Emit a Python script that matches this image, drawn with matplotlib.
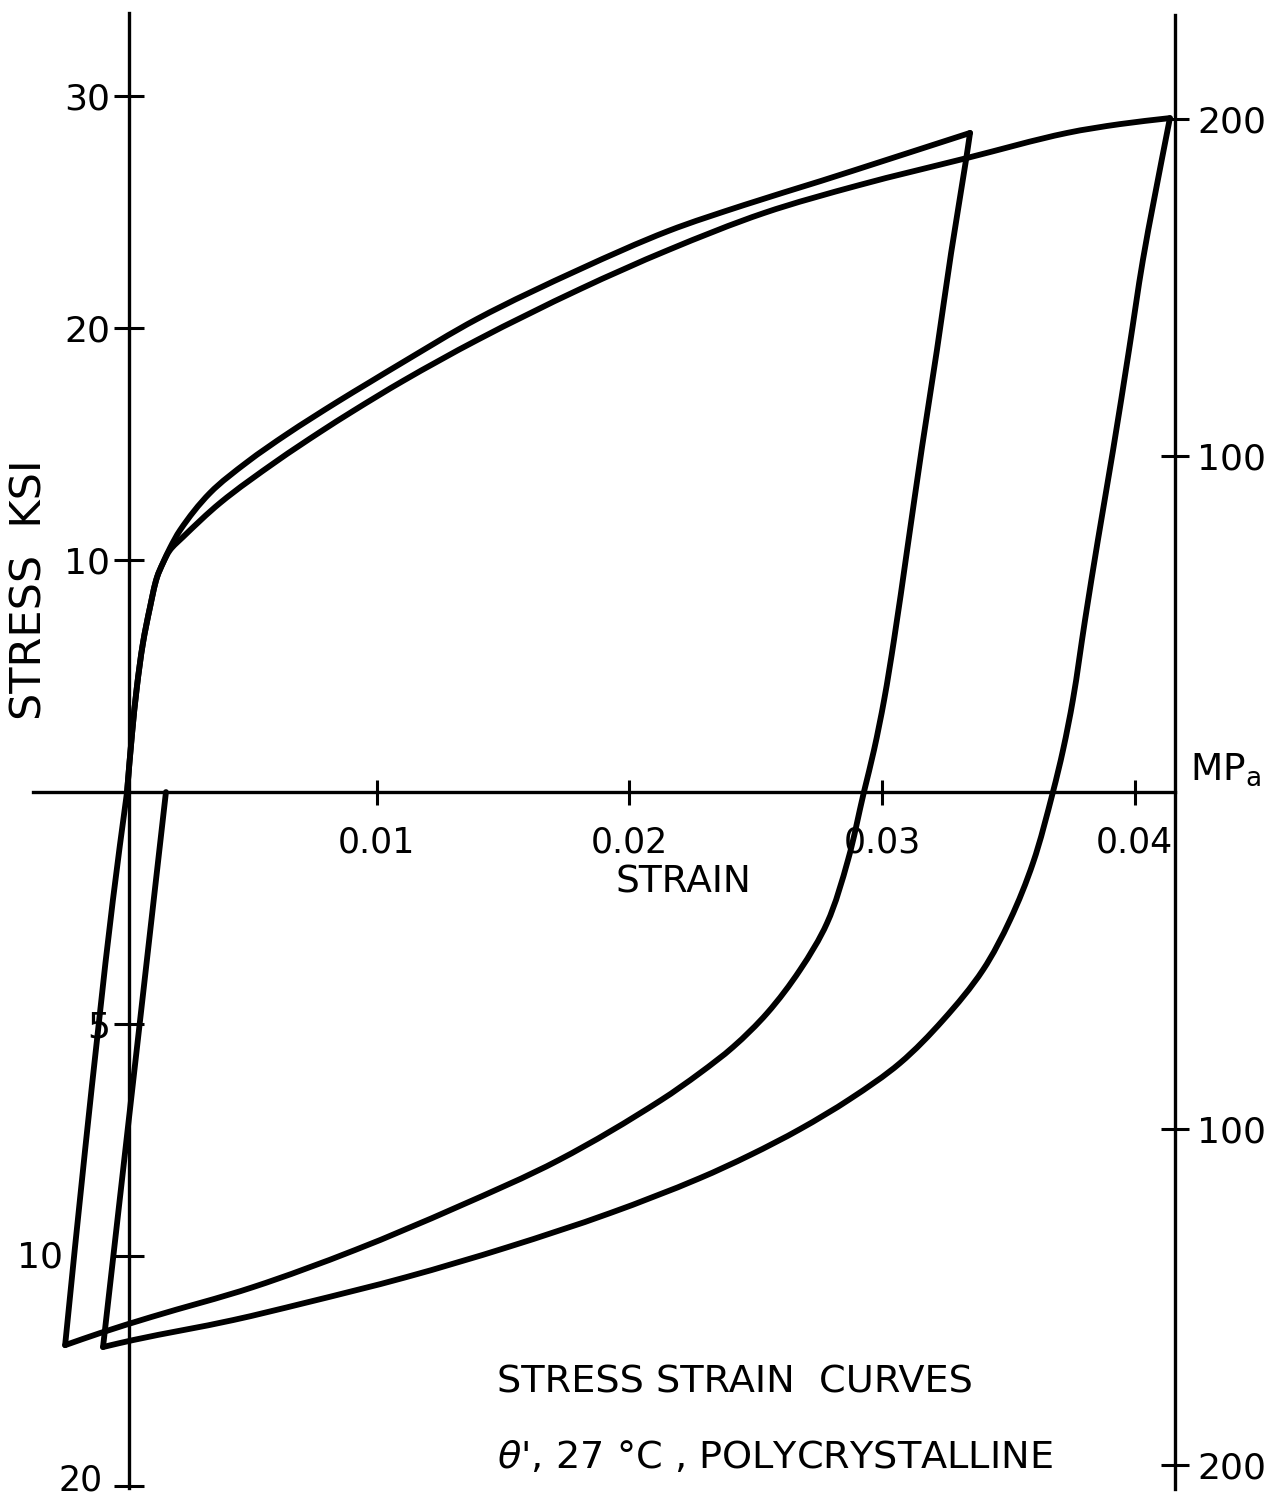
import numpy as np
import matplotlib.pyplot as plt
from matplotlib.path import Path
from matplotlib.patches import PathPatch
from matplotlib.transforms import ScaledTranslation

KSI_TO_MPA = 6.895
XLIM = (-0.004907, 0.045944)
YLIM = (-30.60, 34.14)

# first cycle: tension to ~0.033, then unload / compress
load1_strain = [0.00012, 0.00032, 0.00051, 0.00075, 0.00103, 0.00131, 0.00154, 0.00182, 0.00222,
                0.00340, 0.00487, 0.00645, 0.00843, 0.00973, 0.01092, 0.01397, 0.01805, 0.02153,
                0.02453, 0.02758, 0.03004, 0.03348]
load1_stress = [0.0, 2.54, 4.53, 6.42, 7.97, 9.27, 9.87, 10.52, 11.29,
                12.89, 14.22, 15.43, 16.81, 17.67, 18.45, 20.39, 22.54, 24.18,
                25.30, 26.34, 27.20, 28.41]

unload1_strain = [0.03348, 0.03332, 0.03273, 0.03217, 0.03158, 0.03099, 0.03047, 0.03008, 0.02968,
                  0.02928, 0.02865, 0.02782, 0.02675, 0.02545, 0.02410, 0.02279, 0.02125,
                  0.01721, 0.01318, 0.00914, 0.00510, 0.00107, -0.00095, -0.00233]
unload1_stress = [28.41, 27.24, 23.23, 19.05, 14.87, 10.43, 6.55, 3.97, 1.81,
                  0.0, -2.93, -5.65, -7.67, -9.53, -10.99, -12.11, -13.28,
                  -15.86, -17.89, -19.74, -21.34, -22.63, -23.32, -23.84]

# reload from compression back through the origin
reload1_strain = [-0.00233, -0.00154, -0.00044, 0.00012]
reload1_stress = [-23.84, -15.43, -4.66, 0.0]

# second cycle: tension to ~0.041
load2_strain = [0.00012, 0.00032, 0.00051, 0.00075, 0.00103, 0.00131, 0.00154, 0.00182, 0.00233,
                0.00380, 0.00605, 0.00776, 0.00906, 0.01104, 0.01397, 0.01805, 0.02153, 0.02533,
                0.02909, 0.03336, 0.03732, 0.03941, 0.04139]
load2_stress = [0.0, 2.54, 4.53, 6.42, 7.97, 9.27, 9.87, 10.43, 10.99,
                12.46, 14.27, 15.52, 16.42, 17.72, 19.48, 21.68, 23.36, 24.96,
                26.16, 27.33, 28.41, 28.79, 29.05]

unload2_strain = [0.04139, 0.04076, 0.04032, 0.03977, 0.03914, 0.03854, 0.03803, 0.03755, 0.03716,
                  0.03676, 0.03597, 0.03506, 0.03399, 0.03241, 0.03071, 0.02873, 0.02675, 0.02477,
                  0.02279, 0.01923, 0.01520, 0.01116, 0.00712, 0.00431, 0.00036, -0.00083]
unload2_stress = [29.05, 25.52, 22.93, 19.05, 14.74, 10.86, 7.41, 3.97, 1.81,
                  0.0, -3.06, -5.52, -7.67, -9.83, -11.68, -13.23, -14.53, -15.65,
                  -16.64, -18.15, -19.61, -20.91, -22.03, -22.76, -23.62, -23.92]

reload2_strain = [-0.00083, 0.00166]
reload2_stress = [-23.92, 0.0]

strain_ticks = [0.01, 0.02, 0.03, 0.04]
strain_labels = ['0.01', '0.02', '0.03', '0.04']
ksi_ticks = [30, 20, 10, -10, -20, -29.9]
ksi_labels = ['30', '20', '10', '5', '10', '20']
mpa_ticks = [200, 100, -100, -200]
mpa_labels = ['200', '100', '100', '200']

# rough pixel scale of the data, only used to shape the pen curves
SX = 1285 / (XLIM[1] - XLIM[0])
SY = 1502 / (YLIM[1] - YLIM[0])


def curve_path(xs, ys):
    # smooth curve through the read points, tangents from neighbouring chords
    P = np.column_stack([np.asarray(xs) * SX, np.asarray(ys) * SY])
    n = len(P)
    if n < 3:
        return Path(list(zip(xs, ys)))
    d = np.diff(P, axis=0)
    L = np.hypot(d[:, 0], d[:, 1])
    u = d / L[:, None]
    T = np.empty_like(P)
    T[0], T[-1] = u[0], u[-1]
    T[1:-1] = u[:-1] + u[1:]
    T /= np.hypot(T[:, 0], T[:, 1])[:, None]
    verts = [P[0]]
    codes = [Path.MOVETO]
    for i in range(n - 1):
        verts += [P[i] + T[i] * L[i] / 3, P[i + 1] - T[i + 1] * L[i] / 3, P[i + 1]]
        codes += [Path.CURVE4] * 3
    verts = np.array(verts) / [SX, SY]
    return Path(verts, codes)


fig = plt.figure(figsize=(12.85, 15.02), dpi=100)
ax = fig.add_axes([0, 0, 1, 1])
ax.set_xlim(*XLIM)
ax.set_ylim(*YLIM)

segments = [(load1_strain, load1_stress), (unload1_strain, unload1_stress),
            (reload1_strain, reload1_stress), (load2_strain, load2_stress),
            (unload2_strain, unload2_stress), (reload2_strain, reload2_stress)]
for xs, ys in segments:
    ax.add_patch(PathPatch(curve_path(xs, ys), fill=False, edgecolor='black', lw=4.2,
                           capstyle='round', joinstyle='round'))

# hand-drawn style axes: strain axis through zero stress
ax.spines['top'].set_visible(False)
ax.spines['right'].set_visible(False)
ax.spines['left'].set_position(('data', 0.0002))
ax.spines['left'].set_bounds(-30.0, 33.6)
ax.spines['bottom'].set_position(('data', 0))
ax.spines['bottom'].set_bounds(-0.0036, 0.04159)
for s in ['left', 'bottom']:
    ax.spines[s].set_linewidth(2.4)

ax.set_xticks(strain_ticks, strain_labels)
ax.set_yticks(ksi_ticks, ksi_labels)
ax.tick_params(axis='x', direction='inout', length=18, width=2.2, pad=15, labelsize=25)
ax.tick_params(axis='y', direction='inout', length=21, width=2.2, pad=3, labelsize=26)

# lower left labels sit a bit off in the original lettering
ylabs = ax.get_yticklabels()
ylabs[4].set_transform(ylabs[4].get_transform() + ScaledTranslation(-0.47, 0.02, fig.dpi_scale_trans))
ylabs[5].set_transform(ylabs[5].get_transform() + ScaledTranslation(-0.08, 0.09, fig.dpi_scale_trans))
ylabs[5].set_fontsize(25)

# MPa scale on the right
ax2 = ax.twinx()
ax2.set_ylim(YLIM[0] * KSI_TO_MPA, YLIM[1] * KSI_TO_MPA)
for s in ['left', 'top', 'bottom']:
    ax2.spines[s].set_visible(False)
ax2.spines['right'].set_position(('data', 0.04159))
ax2.spines['right'].set_bounds(-207, 231)
ax2.spines['right'].set_linewidth(2.4)
ax2.set_yticks(mpa_ticks, mpa_labels)
ax2.tick_params(axis='y', direction='inout', length=20, width=2.2, pad=6, labelsize=26)

ax.text(0.04218, 0.95, 'MP$_\\mathregular{a}$', fontsize=27, ha='left', va='center')
ax.text(-0.00372, 8.71, 'STRESS  KSI', fontsize=31, rotation=90, ha='center', va='center')
ax.text(0.02212, -3.88, 'STRAIN', fontsize=27, ha='center', va='center')
ax.text(0.01476, -25.47, 'STRESS STRAIN  CURVES', fontsize=27.5, ha='left', va='center')
ax.text(0.01476, -28.71, "$\\theta$', 27 °C , POLYCRYSTALLINE", fontsize=27.5, ha='left', va='center')

fig.savefig('out.png', dpi=100, facecolor='white')
